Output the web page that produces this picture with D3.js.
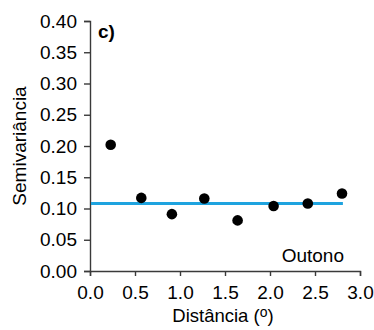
<!DOCTYPE html>
<html>
<head>
<meta charset="utf-8">
<script src="https://cdn.jsdelivr.net/npm/d3@7"></script>
<style>
  html, body { margin: 0; padding: 0; background: #fff; }
  svg text { font-family: Arial, "Liberation Sans", sans-serif; fill: #000; }
</style>
</head>
<body>
<div id="chart"></div>
<script>
// Experimental semivariogram (autumn) with fitted nugget model
const distance = [0.23, 0.57, 0.91, 1.27, 1.64, 2.04, 2.42, 2.80];
const semivariance = [0.202, 0.117, 0.091, 0.116, 0.081, 0.104, 0.108, 0.124];
const modelRange = [0, 2.81];
const modelSill = 0.108;
const xTicks = [0, 0.5, 1, 1.5, 2, 2.5, 3];
const yTicks = [0, 0.05, 0.10, 0.15, 0.20, 0.25, 0.30, 0.35, 0.40];

const W = 374, H = 330;
const margin = { left: 90, right: 14, top: 21, bottom: 59 };

const svg = d3.select("#chart").append("svg")
  .attr("width", W).attr("height", H);

const x = d3.scaleLinear().domain([0, 3]).range([margin.left, W - margin.right]);
const y = d3.scaleLinear().domain([0, 0.4]).range([H - margin.bottom, margin.top]);

const axisColor = "#3a3a3a";

const xAxis = svg.append("g")
  .attr("transform", `translate(0,${H - margin.bottom})`)
  .call(d3.axisBottom(x).tickValues(xTicks).tickFormat(d3.format(".1f")).tickSize(5).tickSizeOuter(5).tickPadding(10));

const yAxis = svg.append("g")
  .attr("transform", `translate(${margin.left},0)`)
  .call(d3.axisLeft(y).tickValues(yTicks).tickFormat(d3.format(".2f")).tickSize(6).tickSizeOuter(6).tickPadding(7));

[xAxis, yAxis].forEach(g => {
  g.selectAll("path, line").attr("stroke", axisColor).attr("stroke-width", 1.4);
  g.selectAll("text").attr("font-size", 19).attr("fill", "#000")
    .style("font-family", "Arial, 'Liberation Sans', sans-serif");
});

// fitted model line
svg.append("line")
  .attr("x1", x(modelRange[0]) + 1).attr("x2", x(modelRange[1]))
  .attr("y1", y(modelSill)).attr("y2", y(modelSill))
  .attr("stroke", "#1ea3df").attr("stroke-width", 3);

// experimental points
svg.append("g").selectAll("circle")
  .data(distance.map((d, i) => [d, semivariance[i]]))
  .join("circle")
  .attr("cx", d => x(d[0])).attr("cy", d => y(d[1]))
  .attr("r", 5.3).attr("fill", "#000");

// panel letter and season
svg.append("text").attr("x", 98).attr("y", 38)
  .attr("font-size", 19).attr("font-weight", "bold").text("c)");

svg.append("text").attr("x", 344).attr("y", 262)
  .attr("text-anchor", "end").attr("font-size", 19).text("Outono");

// axis titles
const xTitle = svg.append("text")
  .attr("x", 223).attr("y", 322)
  .attr("text-anchor", "middle").attr("font-size", 18.5);
xTitle.append("tspan").text("Distância (");
xTitle.append("tspan").attr("font-size", 14).attr("dy", -5).text("o");
xTitle.append("tspan").attr("dy", 5).text(")");

svg.append("text")
  .attr("transform", `translate(26,${(y(0) + y(0.4)) / 2}) rotate(-90)`)
  .attr("text-anchor", "middle").attr("font-size", 19)
  .text("Semivariância");
</script>
</body>
</html>
